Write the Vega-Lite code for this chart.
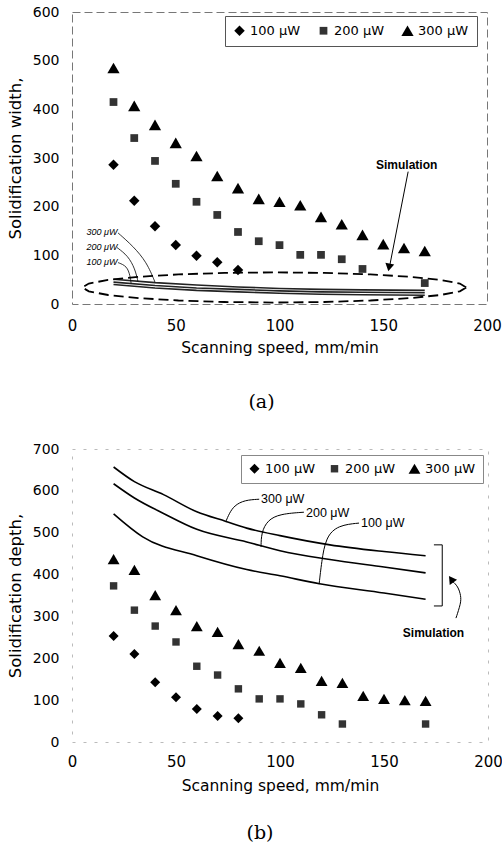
{
  "$schema": "https://vega.github.io/schema/vega-lite/v6.json",
  "background": "white",
  "padding": {"left": 6, "top": 4, "right": 0, "bottom": 0},
  "spacing": 29,
  "config": {
    "font": "DejaVu Sans",
    "axis": {"grid": false, "domain": false, "ticks": false, "labelColor": "#000", "titleColor": "#000", "labelFont": "DejaVu Sans", "titleFont": "DejaVu Sans", "titleFontWeight": "normal"},
    "axisX": {"labelFontSize": 15, "titleFontSize": 15.5, "labelPadding": 14, "titlePadding": 7, "labelFlush": false},
    "axisY": {"labelFontSize": 14, "titleFontSize": 16.5, "labelPadding": 13, "titlePadding": 9}
  },
  "datasets": {
    "ptsA": [
      {"speed": 20, "val": 286, "power": "100 μW"}, {"speed": 30, "val": 212, "power": "100 μW"}, {"speed": 40, "val": 160, "power": "100 μW"}, {"speed": 50, "val": 121, "power": "100 μW"}, {"speed": 60, "val": 99, "power": "100 μW"}, {"speed": 70, "val": 86, "power": "100 μW"}, {"speed": 80, "val": 70, "power": "100 μW"},
      {"speed": 20, "val": 415, "power": "200 μW"}, {"speed": 30, "val": 341, "power": "200 μW"}, {"speed": 40, "val": 294, "power": "200 μW"}, {"speed": 50, "val": 247, "power": "200 μW"}, {"speed": 60, "val": 210, "power": "200 μW"}, {"speed": 70, "val": 183, "power": "200 μW"}, {"speed": 80, "val": 148, "power": "200 μW"}, {"speed": 90, "val": 129, "power": "200 μW"}, {"speed": 100, "val": 121, "power": "200 μW"}, {"speed": 110, "val": 101, "power": "200 μW"}, {"speed": 120, "val": 101, "power": "200 μW"}, {"speed": 130, "val": 92, "power": "200 μW"}, {"speed": 140, "val": 72, "power": "200 μW"}, {"speed": 170, "val": 43, "power": "200 μW"},
      {"speed": 20, "val": 485, "power": "300 μW"}, {"speed": 30, "val": 407, "power": "300 μW"}, {"speed": 40, "val": 368, "power": "300 μW"}, {"speed": 50, "val": 331, "power": "300 μW"}, {"speed": 60, "val": 304, "power": "300 μW"}, {"speed": 70, "val": 263, "power": "300 μW"}, {"speed": 80, "val": 238, "power": "300 μW"}, {"speed": 90, "val": 216, "power": "300 μW"}, {"speed": 100, "val": 210, "power": "300 μW"}, {"speed": 110, "val": 203, "power": "300 μW"}, {"speed": 120, "val": 179, "power": "300 μW"}, {"speed": 130, "val": 164, "power": "300 μW"}, {"speed": 140, "val": 142, "power": "300 μW"}, {"speed": 150, "val": 123, "power": "300 μW"}, {"speed": 160, "val": 115, "power": "300 μW"}, {"speed": 170, "val": 109, "power": "300 μW"}
    ],
    "simA": [
      {"speed": 20, "val": 51, "power": "300"}, {"speed": 40, "val": 44, "power": "300"}, {"speed": 60, "val": 39, "power": "300"}, {"speed": 80, "val": 35, "power": "300"}, {"speed": 100, "val": 32, "power": "300"}, {"speed": 120, "val": 30, "power": "300"}, {"speed": 140, "val": 29, "power": "300"}, {"speed": 170, "val": 28, "power": "300"},
      {"speed": 20, "val": 45, "power": "200"}, {"speed": 40, "val": 38, "power": "200"}, {"speed": 60, "val": 33, "power": "200"}, {"speed": 80, "val": 30, "power": "200"}, {"speed": 100, "val": 27, "power": "200"}, {"speed": 120, "val": 25, "power": "200"}, {"speed": 140, "val": 24, "power": "200"}, {"speed": 170, "val": 23, "power": "200"},
      {"speed": 20, "val": 40, "power": "100"}, {"speed": 40, "val": 33, "power": "100"}, {"speed": 60, "val": 28, "power": "100"}, {"speed": 80, "val": 25, "power": "100"}, {"speed": 100, "val": 22, "power": "100"}, {"speed": 120, "val": 20, "power": "100"}, {"speed": 140, "val": 19, "power": "100"}, {"speed": 170, "val": 18, "power": "100"}
    ],
    "ellipseA": [
      {"i": 0, "speed": 190, "val": 34}, {"i": 1, "speed": 186.9, "val": 42}, {"i": 2, "speed": 177.6, "val": 49.5}, {"i": 3, "speed": 162.9, "val": 55.9}, {"i": 4, "speed": 143.8, "val": 60.8}, {"i": 5, "speed": 121.5, "val": 63.9}, {"i": 6, "speed": 97.5, "val": 65}, {"i": 7, "speed": 73.5, "val": 63.9}, {"i": 8, "speed": 51.3, "val": 60.8}, {"i": 9, "speed": 32.1, "val": 55.9}, {"i": 10, "speed": 17.4, "val": 49.5}, {"i": 11, "speed": 8.1, "val": 42}, {"i": 12, "speed": 5, "val": 34}, {"i": 13, "speed": 8.1, "val": 26}, {"i": 14, "speed": 17.4, "val": 18.5}, {"i": 15, "speed": 32.1, "val": 12.1}, {"i": 16, "speed": 51.3, "val": 7.2}, {"i": 17, "speed": 73.5, "val": 4.1}, {"i": 18, "speed": 97.5, "val": 3}, {"i": 19, "speed": 121.5, "val": 4.1}, {"i": 20, "speed": 143.8, "val": 7.2}, {"i": 21, "speed": 162.9, "val": 12.1}, {"i": 22, "speed": 177.6, "val": 18.5}, {"i": 23, "speed": 186.9, "val": 26}, {"i": 24, "speed": 190, "val": 34}
    ],
    "leadA": [
      {"g": "300", "i": 0, "speed": 22.2, "val": 146}, {"g": "300", "i": 1, "speed": 29.4, "val": 119}, {"g": "300", "i": 2, "speed": 36, "val": 86}, {"g": "300", "i": 3, "speed": 40, "val": 45},
      {"g": "200", "i": 0, "speed": 21.7, "val": 116}, {"g": "200", "i": 1, "speed": 27, "val": 99}, {"g": "200", "i": 2, "speed": 30.4, "val": 72}, {"g": "200", "i": 3, "speed": 31.8, "val": 46},
      {"g": "100", "i": 0, "speed": 22.2, "val": 85}, {"g": "100", "i": 1, "speed": 26.5, "val": 78}, {"g": "100", "i": 2, "speed": 28, "val": 58}, {"g": "100", "i": 3, "speed": 28.5, "val": 42}
    ],
    "labA": [
      {"speed": 7, "val": 148, "label": "300 μW"}, {"speed": 7, "val": 117, "label": "200 μW"}, {"speed": 7, "val": 86, "label": "100 μW"}
    ],
    "arrowA": [
      {"i": 0, "speed": 162, "val": 272}, {"i": 1, "speed": 153, "val": 76}
    ],
    "headA": [{"speed": 152.8, "val": 75}],
    "simTextA": [{"speed": 161.3, "val": 286, "label": "Simulation"}],
    "ptsB": [
      {"speed": 20, "val": 253, "power": "100 μW"}, {"speed": 30, "val": 210, "power": "100 μW"}, {"speed": 40, "val": 143, "power": "100 μW"}, {"speed": 50, "val": 107, "power": "100 μW"}, {"speed": 60, "val": 79, "power": "100 μW"}, {"speed": 70, "val": 62, "power": "100 μW"}, {"speed": 80, "val": 57, "power": "100 μW"},
      {"speed": 20, "val": 373, "power": "200 μW"}, {"speed": 30, "val": 315, "power": "200 μW"}, {"speed": 40, "val": 277, "power": "200 μW"}, {"speed": 50, "val": 239, "power": "200 μW"}, {"speed": 60, "val": 181, "power": "200 μW"}, {"speed": 70, "val": 160, "power": "200 μW"}, {"speed": 80, "val": 127, "power": "200 μW"}, {"speed": 90, "val": 103, "power": "200 μW"}, {"speed": 100, "val": 103, "power": "200 μW"}, {"speed": 110, "val": 91, "power": "200 μW"}, {"speed": 120, "val": 65, "power": "200 μW"}, {"speed": 130, "val": 43, "power": "200 μW"}, {"speed": 170, "val": 43, "power": "200 μW"},
      {"speed": 20, "val": 437, "power": "300 μW"}, {"speed": 30, "val": 411, "power": "300 μW"}, {"speed": 40, "val": 351, "power": "300 μW"}, {"speed": 50, "val": 315, "power": "300 μW"}, {"speed": 60, "val": 277, "power": "300 μW"}, {"speed": 70, "val": 263, "power": "300 μW"}, {"speed": 80, "val": 234, "power": "300 μW"}, {"speed": 90, "val": 218, "power": "300 μW"}, {"speed": 100, "val": 189, "power": "300 μW"}, {"speed": 110, "val": 177, "power": "300 μW"}, {"speed": 120, "val": 146, "power": "300 μW"}, {"speed": 130, "val": 141, "power": "300 μW"}, {"speed": 140, "val": 110, "power": "300 μW"}, {"speed": 150, "val": 103, "power": "300 μW"}, {"speed": 160, "val": 100, "power": "300 μW"}, {"speed": 170, "val": 98, "power": "300 μW"}
    ],
    "simB": [
      {"speed": 20, "val": 657, "power": "300"}, {"speed": 30, "val": 622, "power": "300"}, {"speed": 44, "val": 591, "power": "300"}, {"speed": 60, "val": 550, "power": "300"}, {"speed": 74, "val": 527, "power": "300"}, {"speed": 84, "val": 511, "power": "300"}, {"speed": 100, "val": 493, "power": "300"}, {"speed": 124, "val": 471, "power": "300"}, {"speed": 150, "val": 455, "power": "300"}, {"speed": 170, "val": 445, "power": "300"},
      {"speed": 20, "val": 617, "power": "200"}, {"speed": 30, "val": 583, "power": "200"}, {"speed": 44, "val": 546, "power": "200"}, {"speed": 60, "val": 508, "power": "200"}, {"speed": 84, "val": 478, "power": "200"}, {"speed": 100, "val": 457, "power": "200"}, {"speed": 124, "val": 436, "power": "200"}, {"speed": 150, "val": 418, "power": "200"}, {"speed": 170, "val": 404, "power": "200"},
      {"speed": 20, "val": 545, "power": "100"}, {"speed": 34, "val": 490, "power": "100"}, {"speed": 60, "val": 445, "power": "100"}, {"speed": 84, "val": 412, "power": "100"}, {"speed": 100, "val": 397, "power": "100"}, {"speed": 119, "val": 378, "power": "100"}, {"speed": 150, "val": 356, "power": "100"}, {"speed": 170, "val": 341, "power": "100"}
    ],
    "leadB": [
      {"g": "300", "i": 0, "speed": 90, "val": 580}, {"g": "300", "i": 1, "speed": 83, "val": 578}, {"g": "300", "i": 2, "speed": 78, "val": 565}, {"g": "300", "i": 3, "speed": 75.5, "val": 545}, {"g": "300", "i": 4, "speed": 74, "val": 527},
      {"g": "200", "i": 0, "speed": 111.5, "val": 549}, {"g": "200", "i": 1, "speed": 100, "val": 545}, {"g": "200", "i": 2, "speed": 94, "val": 530}, {"g": "200", "i": 3, "speed": 91, "val": 500}, {"g": "200", "i": 4, "speed": 90.9, "val": 466},
      {"g": "100", "i": 0, "speed": 138, "val": 523}, {"g": "100", "i": 1, "speed": 128, "val": 518}, {"g": "100", "i": 2, "speed": 122, "val": 490}, {"g": "100", "i": 3, "speed": 120, "val": 430}, {"g": "100", "i": 4, "speed": 118.8, "val": 377}
    ],
    "labB": [
      {"speed": 90.9, "val": 580, "label": "300 μW"}, {"speed": 112.5, "val": 547, "label": "200 μW"}, {"speed": 139, "val": 523, "label": "100 μW"}
    ],
    "bracketB": [
      {"i": 0, "speed": 174, "val": 471}, {"i": 1, "speed": 178, "val": 471}, {"i": 2, "speed": 178, "val": 325}, {"i": 3, "speed": 174, "val": 325}
    ],
    "arrowB": [
      {"i": 0, "speed": 184.6, "val": 296}, {"i": 1, "speed": 187, "val": 332}, {"i": 2, "speed": 187, "val": 349}, {"i": 3, "speed": 185.6, "val": 372}, {"i": 4, "speed": 182.7, "val": 385}
    ],
    "headB": [{"speed": 182.3, "val": 389}],
    "simTextB": [{"speed": 173.8, "val": 260, "label": "Simulation"}]
  },
  "resolve": {
    "scale": {"shape": "independent", "color": "independent", "size": "independent"},
    "legend": {"shape": "independent", "color": "independent", "size": "independent"}
  },
  "vconcat": [
    {
      "width": 415,
      "height": 292,
      "view": {"stroke": "#777", "strokeDash": [8, 4], "strokeWidth": 1},
      "title": {"text": "(a)", "orient": "bottom", "font": "DejaVu Serif", "fontSize": 19, "fontWeight": "normal", "color": "#000", "offset": 37, "anchor": "middle", "frame": "group", "dx": -18},
      "layer": [
        {
          "data": {"name": "ptsA"},
          "mark": {"type": "point", "filled": true, "opacity": 1},
          "encoding": {
            "x": {"field": "speed", "type": "quantitative", "scale": {"domain": [0, 200]}, "axis": {"values": [0, 50, 100, 150, 200], "title": "Scanning speed, mm/min"}},
            "y": {"field": "val", "type": "quantitative", "scale": {"domain": [0, 600]}, "axis": {"values": [0, 100, 200, 300, 400, 500, 600], "title": "Solidification width,"}},
            "shape": {"field": "power", "type": "nominal", "scale": {"domain": ["100 μW", "200 μW", "300 μW"], "range": ["diamond", "square", "triangle-up"]},
              "legend": {"orient": "none", "legendX": 153, "legendY": 4, "direction": "horizontal", "title": null, "strokeColor": "#555", "padding": 8, "labelFontSize": 13, "labelFont": "DejaVu Sans", "labelColor": "#000", "columnPadding": 16, "symbolStrokeWidth": 0, "encode": {"legend": {"update": {"strokeDash": {"value": [6, 3]}}}}}},
            "color": {"field": "power", "type": "nominal", "scale": {"domain": ["100 μW", "200 μW", "300 μW"], "range": ["#000000", "#333333", "#000000"]}, "legend": {"orient": "none", "legendX": 153, "legendY": 4, "direction": "horizontal", "title": null, "strokeColor": "#555", "padding": 8, "labelFontSize": 13, "labelFont": "DejaVu Sans", "labelColor": "#000", "columnPadding": 16, "symbolStrokeWidth": 0, "encode": {"legend": {"update": {"strokeDash": {"value": [6, 3]}}}}}},
            "size": {"field": "power", "type": "nominal", "scale": {"type": "ordinal", "domain": ["100 μW", "200 μW", "300 μW"], "range": [110, 60, 150]}, "legend": {"orient": "none", "legendX": 153, "legendY": 4, "direction": "horizontal", "title": null, "strokeColor": "#555", "padding": 8, "labelFontSize": 13, "labelFont": "DejaVu Sans", "labelColor": "#000", "columnPadding": 16, "symbolStrokeWidth": 0, "encode": {"legend": {"update": {"strokeDash": {"value": [6, 3]}}}}}}
          }
        },
        {
          "data": {"name": "simA"},
          "mark": {"type": "line", "color": "#222", "strokeWidth": 1.6},
          "encoding": {
            "x": {"field": "speed", "type": "quantitative", "scale": {"domain": [0, 200]}},
            "y": {"field": "val", "type": "quantitative", "scale": {"domain": [0, 600]}},
            "detail": {"field": "power", "type": "nominal"}
          }
        },
        {
          "data": {"name": "ellipseA"},
          "mark": {"type": "line", "color": "#000", "strokeWidth": 1.8, "strokeDash": [10, 5]},
          "encoding": {
            "x": {"field": "speed", "type": "quantitative", "scale": {"domain": [0, 200]}},
            "y": {"field": "val", "type": "quantitative", "scale": {"domain": [0, 600]}},
            "order": {"field": "i", "type": "quantitative"}
          }
        },
        {
          "data": {"name": "leadA"},
          "mark": {"type": "line", "color": "#000", "strokeWidth": 0.8, "interpolate": "basis"},
          "encoding": {
            "x": {"field": "speed", "type": "quantitative", "scale": {"domain": [0, 200]}},
            "y": {"field": "val", "type": "quantitative", "scale": {"domain": [0, 600]}},
            "detail": {"field": "g", "type": "nominal"},
            "order": {"field": "i", "type": "quantitative"}
          }
        },
        {
          "data": {"name": "labA"},
          "mark": {"type": "text", "align": "left", "baseline": "middle", "font": "Liberation Sans", "fontSize": 9, "fontStyle": "italic", "color": "#000"},
          "encoding": {
            "x": {"field": "speed", "type": "quantitative", "scale": {"domain": [0, 200]}},
            "y": {"field": "val", "type": "quantitative", "scale": {"domain": [0, 600]}},
            "text": {"field": "label"}
          }
        },
        {
          "data": {"name": "arrowA"},
          "mark": {"type": "line", "color": "#000", "strokeWidth": 1},
          "encoding": {
            "x": {"field": "speed", "type": "quantitative", "scale": {"domain": [0, 200]}},
            "y": {"field": "val", "type": "quantitative", "scale": {"domain": [0, 600]}},
            "order": {"field": "i", "type": "quantitative"}
          }
        },
        {
          "data": {"name": "headA"},
          "mark": {"type": "point", "shape": "triangle-down", "filled": true, "color": "#000", "size": 80, "angle": 11, "opacity": 1},
          "encoding": {
            "x": {"field": "speed", "type": "quantitative", "scale": {"domain": [0, 200]}},
            "y": {"field": "val", "type": "quantitative", "scale": {"domain": [0, 600]}}
          }
        },
        {
          "data": {"name": "simTextA"},
          "mark": {"type": "text", "font": "Liberation Sans", "fontSize": 12, "fontWeight": "bold", "color": "#000", "baseline": "middle"},
          "encoding": {
            "x": {"field": "speed", "type": "quantitative", "scale": {"domain": [0, 200]}},
            "y": {"field": "val", "type": "quantitative", "scale": {"domain": [0, 600]}},
            "text": {"field": "label"}
          }
        }
      ]
    },
    {
      "width": 416,
      "height": 293,
      "view": {"stroke": "#bbb", "strokeDash": [3, 8], "strokeWidth": 1},
      "title": {"text": "(b)", "orient": "bottom", "font": "DejaVu Serif", "fontSize": 19, "fontWeight": "normal", "color": "#000", "offset": 30, "anchor": "middle", "frame": "group", "dx": -20},
      "layer": [
        {
          "data": {"name": "ptsB"},
          "mark": {"type": "point", "filled": true, "opacity": 1},
          "encoding": {
            "x": {"field": "speed", "type": "quantitative", "scale": {"domain": [0, 200]}, "axis": {"values": [0, 50, 100, 150, 200], "title": "Scanning speed, mm/min", "labelPadding": 12, "titlePadding": 9}},
            "y": {"field": "val", "type": "quantitative", "scale": {"domain": [0, 700]}, "axis": {"values": [0, 100, 200, 300, 400, 500, 600, 700], "title": "Solidification depth,"}},
            "shape": {"field": "power", "type": "nominal", "scale": {"domain": ["100 μW", "200 μW", "300 μW"], "range": ["diamond", "square", "triangle-up"]},
              "legend": {"orient": "none", "legendX": 169, "legendY": 6, "direction": "horizontal", "title": null, "strokeColor": "#888", "padding": 7, "labelFontSize": 13, "labelFont": "DejaVu Sans", "labelColor": "#000", "columnPadding": 12, "symbolStrokeWidth": 0, "encode": {"legend": {"update": {"strokeDash": {"value": [4, 4]}}}}}},
            "color": {"field": "power", "type": "nominal", "scale": {"domain": ["100 μW", "200 μW", "300 μW"], "range": ["#000000", "#333333", "#000000"]}, "legend": {"orient": "none", "legendX": 169, "legendY": 6, "direction": "horizontal", "title": null, "strokeColor": "#888", "padding": 7, "labelFontSize": 13, "labelFont": "DejaVu Sans", "labelColor": "#000", "columnPadding": 12, "symbolStrokeWidth": 0, "encode": {"legend": {"update": {"strokeDash": {"value": [4, 4]}}}}}},
            "size": {"field": "power", "type": "nominal", "scale": {"type": "ordinal", "domain": ["100 μW", "200 μW", "300 μW"], "range": [100, 55, 140]}, "legend": {"orient": "none", "legendX": 169, "legendY": 6, "direction": "horizontal", "title": null, "strokeColor": "#888", "padding": 7, "labelFontSize": 13, "labelFont": "DejaVu Sans", "labelColor": "#000", "columnPadding": 12, "symbolStrokeWidth": 0, "encode": {"legend": {"update": {"strokeDash": {"value": [4, 4]}}}}}}
          }
        },
        {
          "data": {"name": "simB"},
          "mark": {"type": "line", "color": "#000", "strokeWidth": 1.6, "interpolate": "monotone"},
          "encoding": {
            "x": {"field": "speed", "type": "quantitative", "scale": {"domain": [0, 200]}},
            "y": {"field": "val", "type": "quantitative", "scale": {"domain": [0, 700]}},
            "detail": {"field": "power", "type": "nominal"}
          }
        },
        {
          "data": {"name": "leadB"},
          "mark": {"type": "line", "color": "#000", "strokeWidth": 1, "interpolate": "basis"},
          "encoding": {
            "x": {"field": "speed", "type": "quantitative", "scale": {"domain": [0, 200]}},
            "y": {"field": "val", "type": "quantitative", "scale": {"domain": [0, 700]}},
            "detail": {"field": "g", "type": "nominal"},
            "order": {"field": "i", "type": "quantitative"}
          }
        },
        {
          "data": {"name": "labB"},
          "mark": {"type": "text", "align": "left", "baseline": "middle", "font": "Liberation Sans", "fontSize": 12.5, "color": "#000"},
          "encoding": {
            "x": {"field": "speed", "type": "quantitative", "scale": {"domain": [0, 200]}},
            "y": {"field": "val", "type": "quantitative", "scale": {"domain": [0, 700]}},
            "text": {"field": "label"}
          }
        },
        {
          "data": {"name": "bracketB"},
          "mark": {"type": "line", "color": "#000", "strokeWidth": 1},
          "encoding": {
            "x": {"field": "speed", "type": "quantitative", "scale": {"domain": [0, 200]}},
            "y": {"field": "val", "type": "quantitative", "scale": {"domain": [0, 700]}},
            "order": {"field": "i", "type": "quantitative"}
          }
        },
        {
          "data": {"name": "arrowB"},
          "mark": {"type": "line", "color": "#000", "strokeWidth": 1, "interpolate": "basis"},
          "encoding": {
            "x": {"field": "speed", "type": "quantitative", "scale": {"domain": [0, 200]}},
            "y": {"field": "val", "type": "quantitative", "scale": {"domain": [0, 700]}},
            "order": {"field": "i", "type": "quantitative"}
          }
        },
        {
          "data": {"name": "headB"},
          "mark": {"type": "point", "shape": "triangle-up", "filled": true, "color": "#000", "size": 80, "angle": -35, "opacity": 1},
          "encoding": {
            "x": {"field": "speed", "type": "quantitative", "scale": {"domain": [0, 200]}},
            "y": {"field": "val", "type": "quantitative", "scale": {"domain": [0, 700]}}
          }
        },
        {
          "data": {"name": "simTextB"},
          "mark": {"type": "text", "font": "Liberation Sans", "fontSize": 12, "fontWeight": "bold", "color": "#000", "baseline": "middle"},
          "encoding": {
            "x": {"field": "speed", "type": "quantitative", "scale": {"domain": [0, 200]}},
            "y": {"field": "val", "type": "quantitative", "scale": {"domain": [0, 700]}},
            "text": {"field": "label"}
          }
        }
      ]
    }
  ]
}
